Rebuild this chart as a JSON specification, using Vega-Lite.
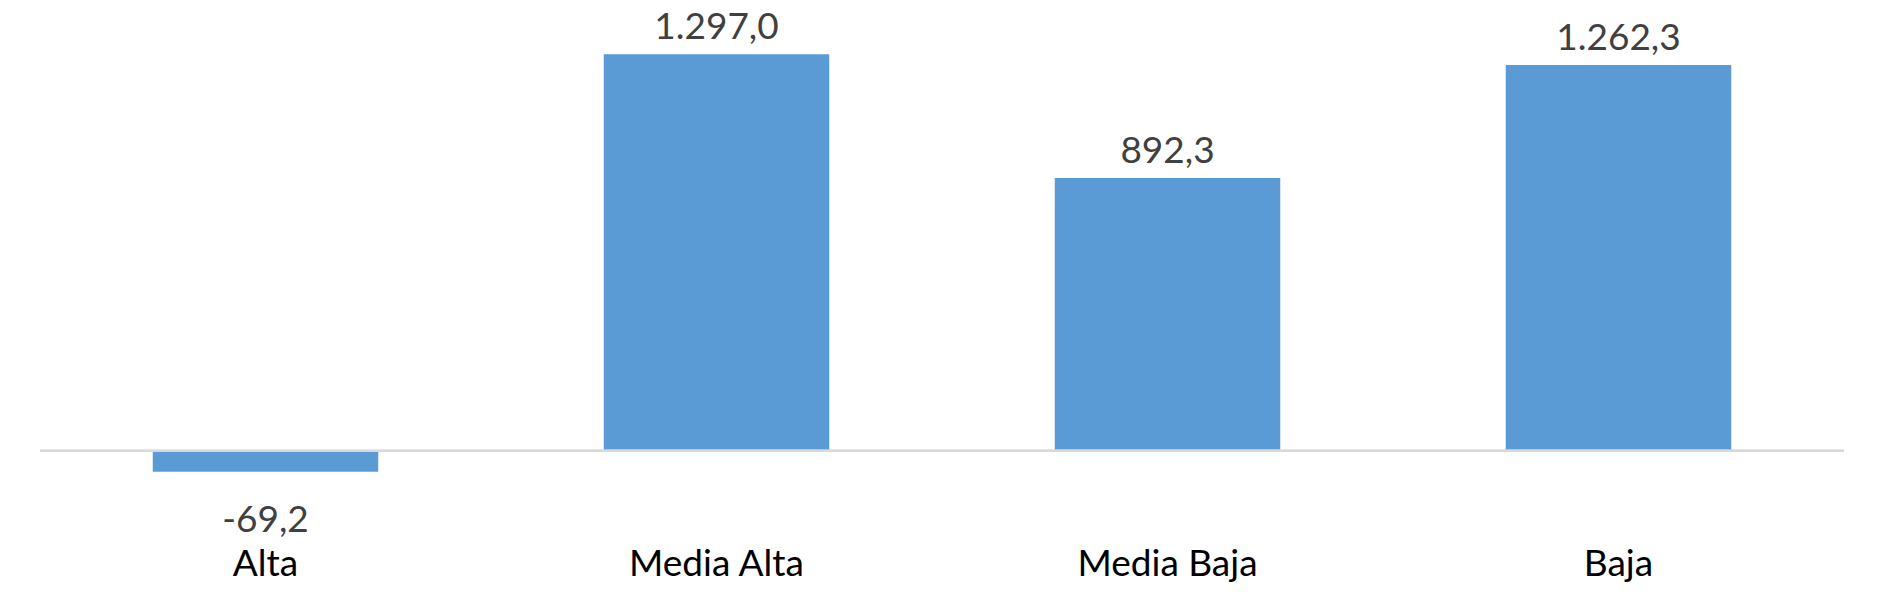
{
  "$schema": "https://vega.github.io/schema/vega-lite/v6.json",
  "autosize": {"type": "none"},
  "padding": {"left": 40, "top": 0, "right": 56, "bottom": 94},
  "width": 1804,
  "height": 500,
  "background": "white",
  "config": {"view": {"stroke": null}},
  "data": {"values": [
    {"categoria": "Alta", "valor": -69.2},
    {"categoria": "Media Alta", "valor": 1297.0},
    {"categoria": "Media Baja", "valor": 892.3},
    {"categoria": "Baja", "valor": 1262.3}
  ]},
  "encoding": {
    "x": {
      "field": "categoria", "type": "nominal", "sort": null,
      "scale": {"paddingInner": 0.5, "paddingOuter": 0.25},
      "axis": {
        "title": null, "domain": false, "ticks": false, "grid": false,
        "labelAngle": 0, "labelFont": "Lato", "labelFontSize": 37,
        "labelColor": "#000000", "labelBaseline": "alphabetic",
        "labelPadding": 75, "labelFontWeight": "normal", "labelLimit": 0
      }
    }
  },
  "layer": [
    {
      "mark": {"type": "bar", "color": "#5b9bd5"},
      "encoding": {
        "y": {
          "field": "valor", "type": "quantitative",
          "scale": {"domain": [-161.3, 1474.7], "nice": false, "zero": true},
          "axis": null
        }
      }
    },
    {
      "mark": {"type": "rule", "color": "#d9d9d9", "strokeWidth": 2},
      "encoding": {"y": {"datum": 0, "type": "quantitative"}, "x": null}
    },
    {
      "transform": [{"filter": "datum.valor >= 0"}],
      "mark": {"type": "text", "font": "Lato", "fontSize": 37, "color": "#404040", "baseline": "alphabetic", "dy": -15},
      "encoding": {
        "y": {"field": "valor", "type": "quantitative"},
        "text": {"field": "valor", "type": "quantitative", "format": ",.1f"}
      }
    },
    {
      "transform": [{"filter": "datum.valor < 0"}],
      "mark": {"type": "text", "font": "Lato", "fontSize": 37, "color": "#404040", "baseline": "alphabetic", "dy": 60},
      "encoding": {
        "y": {"field": "valor", "type": "quantitative"},
        "text": {"field": "valor", "type": "quantitative", "format": ",.1f"}
      }
    }
  ],
  "usermeta": {"embedOptions": {"formatLocale": {"decimal": ",", "thousands": ".", "grouping": [3], "currency": ["", " €"], "minus": "-"}}}
}
